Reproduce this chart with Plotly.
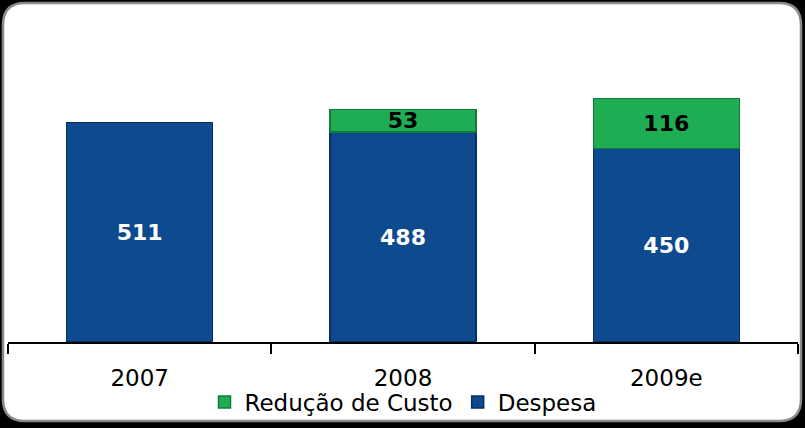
import plotly.graph_objects as go

categories = ["2007", "2008", "2009e"]
despesa = [511, 488, 450]
reducao = [None, 53, 116]

W, H = 805, 428
ML, MR, MT, MB = 8, 7, 84, 86
PW, PH = W - ML - MR, H - MT - MB

def px_to_paper(x, y):
    return (x - ML) / PW, (H - MB - y) / PH

# rounded panel path
x0, y0, x1, y1, r = 3, 3, 801, 421, 22
def P(x, y):
    a, b = px_to_paper(x, y)
    return f"{a:.5f},{b:.5f}"
path = (f"M {P(x0+r,y0)} L {P(x1-r,y0)} Q {P(x1,y0)} {P(x1,y0+r)} "
        f"L {P(x1,y1-r)} Q {P(x1,y1)} {P(x1-r,y1)} "
        f"L {P(x0+r,y1)} Q {P(x0,y1)} {P(x0,y1-r)} "
        f"L {P(x0,y0+r)} Q {P(x0,y0)} {P(x0+r,y0)} Z")

font = "DejaVu Sans, Verdana, sans-serif"

fig = go.Figure()
fig.add_trace(go.Bar(
    x=categories, y=despesa, name="Despesa",
    marker=dict(color="#0D4A8E", line=dict(color="#08305E", width=1.5)),
    text=despesa, textposition="inside", insidetextanchor="middle",
    constraintext="none",
    textfont=dict(family=font, size=22, color="white", weight="bold"),
    legendrank=2,
))
fig.add_trace(go.Bar(
    x=categories, y=reducao, name="Redução de Custo",
    marker=dict(color="#1FAD53", line=dict(color="#137A3A", width=1.5)),
    text=[("" if v is None else v) for v in reducao], textposition="inside",
    insidetextanchor="middle", constraintext="none",
    textfont=dict(family=font, size=22, color="black", weight="bold"),
    legendrank=1,
))

fig.update_layout(
    width=W, height=H,
    margin=dict(l=ML, r=MR, t=MT, b=MB, pad=0, autoexpand=False),
    paper_bgcolor="black",
    plot_bgcolor="rgba(0,0,0,0)",
    barmode="stack",
    bargap=0.445,
    showlegend=True,
    legend=dict(orientation="h", x=0.5, xanchor="center", y=-0.233, yanchor="middle",
                font=dict(family=font, size=23, color="black"),
                bgcolor="rgba(0,0,0,0)", traceorder="normal",
                itemwidth=30, tracegroupgap=0),
    font=dict(family=font),
    shapes=[dict(type="path", xref="paper", yref="paper", path=path,
                 fillcolor="white", line=dict(color="#8a8a8a", width=2.5),
                 layer="below")],
)
fig.update_xaxes(showline=True, linecolor="black", linewidth=1.5,
                 ticks="outside", tickson="boundaries", ticklen=10,
                 tickcolor="black", tickwidth=1.5, automargin=False,
                 ticklabelstandoff=15,
                 tickfont=dict(family=font, size=23, color="black"),
                 showgrid=False)
fig.update_yaxes(range=[0, 600], visible=False, showgrid=False, automargin=False)

fig.write_html("out.html", config={"displayModeBar": False},
               post_script="document.body.style.margin='0';document.body.style.background='black';")
